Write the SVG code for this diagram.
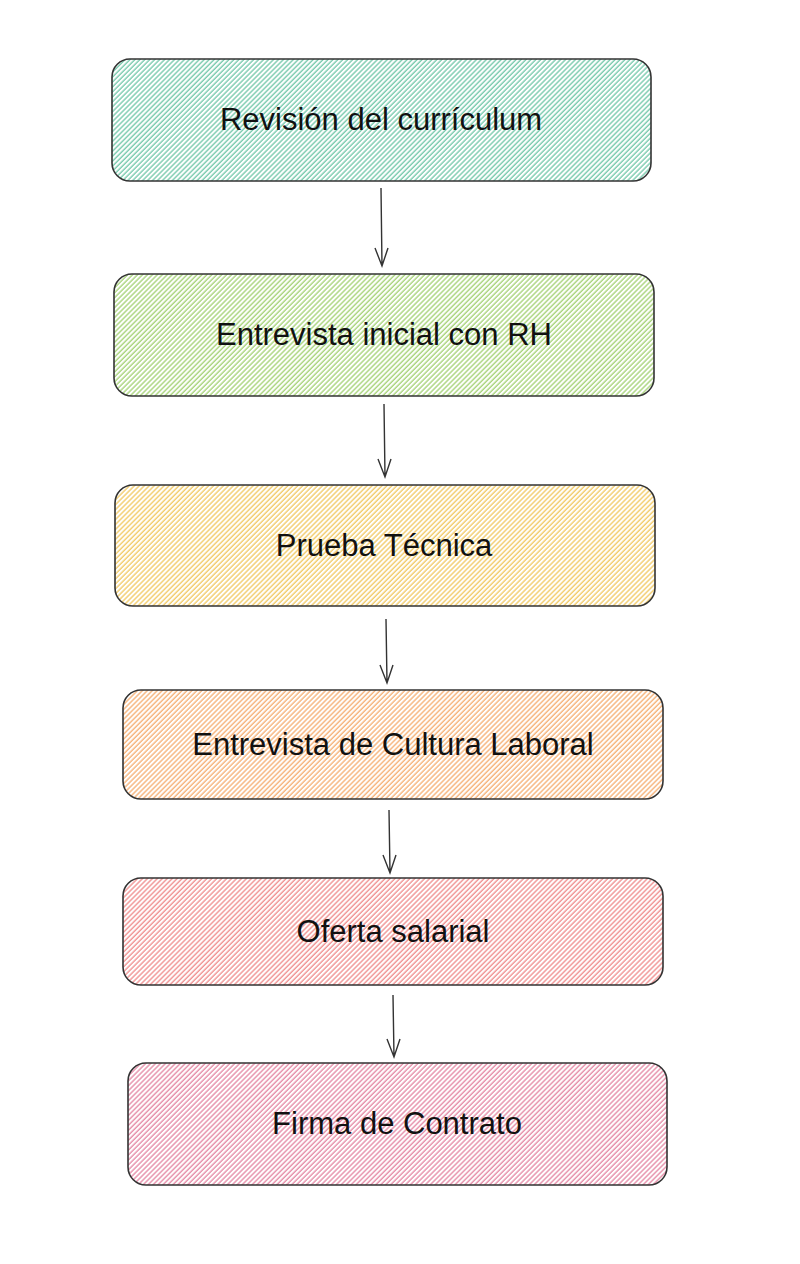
<svg xmlns="http://www.w3.org/2000/svg" width="800" height="1264" viewBox="0 0 800 1264">
<style>
.box{stroke:#333;stroke-width:1.6;}
.lbl{font-family:"Liberation Sans",Arial,sans-serif;font-size:31px;fill:#111;text-anchor:middle;dominant-baseline:central;}
.conn{stroke:#333;stroke-width:1.4;fill:none;}
</style>
<defs>
<pattern id="h1" width="3.5" height="3.5" patternUnits="userSpaceOnUse" patternTransform="rotate(45)"><line x1="1" y1="0" x2="1" y2="4" stroke="#5cbf9c" stroke-width="1.15"/></pattern>
<pattern id="h2" width="3.5" height="3.5" patternUnits="userSpaceOnUse" patternTransform="rotate(45)"><line x1="1" y1="0" x2="1" y2="4" stroke="#96cb5e" stroke-width="1.15"/></pattern>
<pattern id="h3" width="3.5" height="3.5" patternUnits="userSpaceOnUse" patternTransform="rotate(45)"><line x1="1" y1="0" x2="1" y2="4" stroke="#efc04a" stroke-width="1.15"/></pattern>
<pattern id="h4" width="3.5" height="3.5" patternUnits="userSpaceOnUse" patternTransform="rotate(45)"><line x1="1" y1="0" x2="1" y2="4" stroke="#f4a25c" stroke-width="1.15"/></pattern>
<pattern id="h5" width="3.5" height="3.5" patternUnits="userSpaceOnUse" patternTransform="rotate(45)"><line x1="1" y1="0" x2="1" y2="4" stroke="#ed7b7b" stroke-width="1.15"/></pattern>
<pattern id="h6" width="3.5" height="3.5" patternUnits="userSpaceOnUse" patternTransform="rotate(45)"><line x1="1" y1="0" x2="1" y2="4" stroke="#e07595" stroke-width="1.15"/></pattern>
</defs>
<rect width="800" height="1264" fill="#fff"/>
<g id="connectors">
<path class="conn" d="M381 188 L382 266 M375 248 L382 266 L388 248"/>
<path class="conn" d="M384 404 L385 477 M378 459 L385 477 L391 459"/>
<path class="conn" d="M386 619 L387 683 M380 665 L387 683 L393 665"/>
<path class="conn" d="M389 810 L390 873 M383 855 L390 873 L396 855"/>
<path class="conn" d="M393 995 L394 1057 M387 1039 L394 1057 L400 1039"/>
</g>
<g id="n1"><rect class="box" x="112" y="59" width="539" height="122" rx="18" fill="url(#h1)"/><text class="lbl" x="381" y="119">Revisión del currículum</text></g>
<g id="n2"><rect class="box" x="114" y="274" width="540" height="122" rx="18" fill="url(#h2)"/><text class="lbl" x="384" y="334">Entrevista inicial con RH</text></g>
<g id="n3"><rect class="box" x="115" y="485" width="540" height="121" rx="18" fill="url(#h3)"/><text class="lbl" x="384" y="545">Prueba Técnica</text></g>
<g id="n4"><rect class="box" x="123" y="690" width="540" height="109" rx="18" fill="url(#h4)"/><text class="lbl" x="393" y="744">Entrevista de Cultura Laboral</text></g>
<g id="n5"><rect class="box" x="123" y="878" width="540" height="107" rx="18" fill="url(#h5)"/><text class="lbl" x="393" y="931">Oferta salarial</text></g>
<g id="n6"><rect class="box" x="128" y="1063" width="539" height="122" rx="18" fill="url(#h6)"/><text class="lbl" x="397" y="1123">Firma de Contrato</text></g>
</svg>
